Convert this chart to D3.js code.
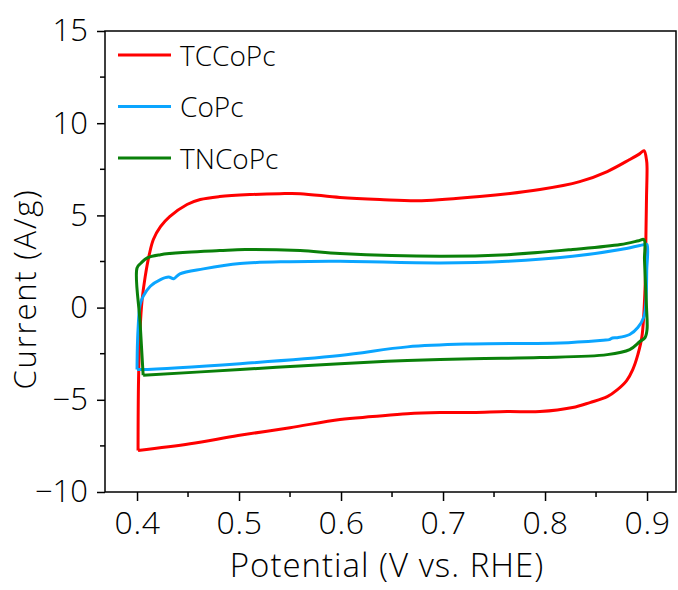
<!DOCTYPE html>
<html>
<head>
<meta charset="utf-8">
<script src="https://cdn.jsdelivr.net/npm/d3@7/dist/d3.min.js"></script>
<style>
  html, body { margin: 0; padding: 0; background: #fff; }
  svg { display: block; }
  text { font-family: "Open Sans", "Noto Sans", sans-serif; font-weight: 300; fill: #000; }
</style>
</head>
<body>
<svg id="chart" width="678" height="590"></svg>
<script>
// Cyclic voltammograms: [potential (V vs. RHE), current (A/g)]
const seriesNames = ["TCCoPc", "CoPc", "TNCoPc"];
const seriesColors = ["#ff0000", "#0aa5ff", "#0a800a"];

const tccopc = [
  [0.401, -7.75], [0.4015, -3.90], [0.403, -1.19], [0.405, 0.43], [0.408, 1.68],
  [0.412, 2.87], [0.416, 3.69], [0.423, 4.39], [0.432, 4.93], [0.449, 5.59],
  [0.462, 5.86], [0.481, 6.02], [0.511, 6.13], [0.540, 6.18], [0.560, 6.18],
  [0.599, 5.97], [0.638, 5.86], [0.679, 5.80], [0.736, 6.02], [0.795, 6.40],
  [0.834, 6.83], [0.861, 7.38], [0.883, 8.03], [0.893, 8.35], [0.897, 8.51],
  [0.8995, 8.0], [0.900, 7.59], [0.8995, 6.0], [0.899, 4.23], [0.898, 0.98],
  [0.895, -1.57], [0.891, -2.55], [0.886, -3.36],
  [0.880, -3.96], [0.871, -4.45], [0.861, -4.83], [0.844, -5.15], [0.827, -5.42],
  [0.795, -5.64], [0.763, -5.64], [0.729, -5.69], [0.697, -5.69], [0.665, -5.75],
  [0.631, -5.91], [0.599, -6.07], [0.550, -6.51], [0.499, -6.94], [0.452, -7.38],
  [0.401, -7.75]
];

const copc = [
  [0.400, -3.36], [0.4003, -2.2], [0.401, -1.19], [0.403, 0.16], [0.406, 0.61], [0.413, 1.16],
  [0.423, 1.52], [0.431, 1.66], [0.436, 1.57], [0.442, 1.83], [0.465, 2.10],
  [0.501, 2.39], [0.550, 2.49], [0.599, 2.51], [0.697, 2.42], [0.763, 2.51],
  [0.827, 2.78], [0.874, 3.15], [0.893, 3.37], [0.898, 3.42], [0.900, 3.42],
  [0.8997, 2.0], [0.899, 0.43], [0.897, -0.49], [0.891, -1.08], [0.883, -1.46],
  [0.871, -1.63], [0.866, -1.65], [0.863, -1.74], [0.857, -1.77], [0.815, -1.92],
  [0.729, -1.97], [0.665, -2.13], [0.599, -2.60], [0.501, -3.04], [0.403, -3.36],
  [0.400, -3.36]
];

const tncopc = [
  [0.406, -3.67], [0.403, -0.8], [0.400, 2.15], [0.404, 2.42], [0.410, 2.70], [0.423, 2.87],
  [0.449, 3.00], [0.481, 3.09], [0.506, 3.15], [0.560, 3.09], [0.599, 2.93],
  [0.697, 2.78], [0.763, 2.87], [0.827, 3.15], [0.874, 3.42], [0.892, 3.63],
  [0.897, 3.69], [0.8975, 2.6], [0.8985, 1.25], [0.8995, 0.0], [0.900, -1.19],
  [0.898, -1.63], [0.893, -1.84], [0.883, -2.28],
  [0.861, -2.55], [0.795, -2.71], [0.729, -2.77], [0.665, -2.87], [0.599, -3.04],
  [0.501, -3.36], [0.406, -3.67]
];

const seriesData = [tccopc, copc, tncopc];

const xTicks = [0.4, 0.5, 0.6, 0.7, 0.8, 0.9];
const xMinorTicks = [0.45, 0.55, 0.65, 0.75, 0.85];
const yTicks = [-10, -5, 0, 5, 10, 15];
const yMinorTicks = [-7.5, -2.5, 2.5, 7.5, 12.5];
const xDomain = [0.3686, 0.9284];
const yDomain = [-10, 15];

const plot = { left: 105, right: 676, top: 31, bottom: 492 };
const svg = d3.select("#chart");

const x = d3.scaleLinear().domain(xDomain).range([plot.left, plot.right]);
const y = d3.scaleLinear().domain(yDomain).range([plot.bottom, plot.top]);

const fmtY = d => (d < 0 ? "\u2212" + Math.abs(d) : String(d));

// bottom axis
const gx = svg.append("g").attr("transform", `translate(0,${plot.bottom})`);
gx.call(d3.axisBottom(x).tickValues(xTicks).tickFormat(d3.format(".1f"))
  .tickSize(9).tickSizeOuter(0).tickPadding(10));
gx.select(".domain").remove();
gx.selectAll(".tick line").attr("stroke", "#000").attr("stroke-width", 1.5);
gx.selectAll(".tick text").style("font-size", "32px").style("letter-spacing", "0.6px")
  .attr("dy", "0.71em");
gx.selectAll(".minor").data(xMinorTicks).enter().append("line")
  .attr("x1", d => x(d)).attr("x2", d => x(d)).attr("y1", 0).attr("y2", 5)
  .attr("stroke", "#000").attr("stroke-width", 1.5);

// left axis
const gy = svg.append("g").attr("transform", `translate(${plot.left},0)`);
gy.call(d3.axisLeft(y).tickValues(yTicks).tickFormat(fmtY)
  .tickSize(8).tickSizeOuter(0).tickPadding(9));
gy.select(".domain").remove();
gy.selectAll(".tick line").attr("stroke", "#000").attr("stroke-width", 1.5);
gy.selectAll(".tick text").style("font-size", "31px");
gy.selectAll(".minor").data(yMinorTicks).enter().append("line")
  .attr("y1", d => y(d)).attr("y2", d => y(d)).attr("x1", 0).attr("x2", -5)
  .attr("stroke", "#000").attr("stroke-width", 1.5);

// frame
svg.append("rect")
  .attr("x", plot.left).attr("y", plot.top)
  .attr("width", plot.right - plot.left).attr("height", plot.bottom - plot.top)
  .attr("fill", "none").attr("stroke", "#000").attr("stroke-width", 1.5);

// curves
const line = d3.line()
  .x(d => x(d[0])).y(d => y(d[1]))
  .curve(d3.curveCatmullRom.alpha(0.5));

svg.append("g").selectAll("path").data(seriesData).enter().append("path")
  .attr("d", line)
  .attr("fill", "none")
  .attr("stroke", (d, i) => seriesColors[i])
  .attr("stroke-width", 3)
  .attr("stroke-linejoin", "round");

// legend
const legend = svg.append("g");
seriesNames.forEach((name, i) => {
  const ly = 55 + i * 51.5;
  legend.append("line")
    .attr("x1", 118).attr("x2", 171).attr("y1", ly).attr("y2", ly)
    .attr("stroke", seriesColors[i]).attr("stroke-width", 3);
  legend.append("text")
    .attr("x", 180).attr("y", ly + 10.5)
    .style("font-size", "28px")
    .text(name);
});

// axis titles
svg.append("text")
  .attr("x", 387).attr("y", 577)
  .attr("text-anchor", "middle")
  .style("font-size", "33px").style("letter-spacing", "1px")
  .text("Potential (V vs. RHE)");

svg.append("text")
  .attr("transform", "translate(36,289) rotate(-90)")
  .attr("text-anchor", "middle")
  .style("font-size", "31px").style("letter-spacing", "1.8px")
  .text("Current (A/g)");
</script>
</body>
</html>
